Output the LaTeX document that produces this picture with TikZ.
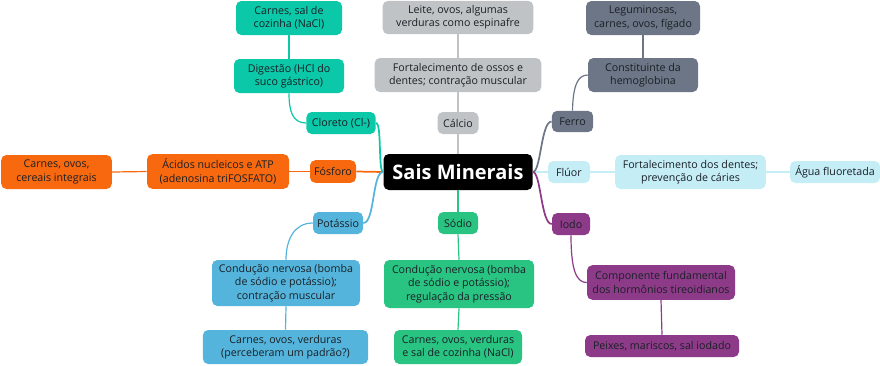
\documentclass[tikz,border=0pt]{standalone}
\usepackage{fontspec}
\setmainfont{Open Sans}
\definecolor{clTeal}{HTML}{0AC8A8}
\definecolor{clGrey}{HTML}{C0C3C6}
\definecolor{clSlate}{HTML}{6C7686}
\definecolor{clSky}{HTML}{C5EDF6}
\definecolor{clOrange}{HTML}{F7680F}
\definecolor{clBlue}{HTML}{55B4DB}
\definecolor{clGreen}{HTML}{29C382}
\definecolor{clPurple}{HTML}{8D3B88}
\definecolor{clInk}{HTML}{1A2026}
\tikzset{
 box/.style={fill=#1,rounded corners=4pt,align=center,inner sep=1pt,
  text=clInk,font=\fontsize{8}{10}\selectfont},
 ln/.style={draw=#1,line width=1.3pt},
 lnthin/.style={draw=#1,line width=.9pt}
}
\begin{document}
\begin{tikzpicture}[x=.75pt,y=-.75pt]
 \useasboundingbox (0,0) rectangle (880,365);
 % centre
 \node[fill=black,rounded corners=4pt,text=white,font=\fontsize{15}{18}\selectfont\bfseries,
  minimum width=111.75pt,minimum height=27pt,inner sep=1pt] (sm) at (458,172) {Sais Minerais};
 % calcio
 \node[box=clGrey,minimum width=30.75pt,minimum height=16.5pt] (calcio) at (458,123) {Cálcio};
 \node[box=clGrey,minimum width=125pt,minimum height=25.5pt] (ossos) at (458,75) {Fortalecimento de ossos e\\dentes; contração muscular};
 \node[box=clGrey,minimum width=113pt,minimum height=25pt] (leite) at (458,17.5) {Leite, ovos, algumas\\verduras como espinafre};
 % cloreto
 \node[box=clTeal,minimum width=52pt,minimum height=16.5pt] (cloreto) at (341,123) {Cloreto (Cl-)};
 \node[box=clTeal,minimum width=82.5pt,minimum height=25.5pt] (digest) at (289,76) {Digestão (HCl do\\suco gástrico)};
 \node[box=clTeal,minimum width=79.5pt,minimum height=25.5pt] (salcoz) at (289,18) {Carnes, sal de\\cozinha (NaCl)};
 % fosforo
 \node[box=clOrange,minimum width=34.5pt,minimum height=17pt] (fosforo) at (333,171.5) {Fósforo};
 \node[box=clOrange,minimum width=106.5pt,minimum height=26pt] (atp) at (218,171.5) {Ácidos nucleicos e ATP\\(adenosina triFOSFATO)};
 \node[box=clOrange,minimum width=83pt,minimum height=25.5pt] (cereais) at (56.5,172) {Carnes, ovos,\\cereais integrais};
 % potassio
 \node[box=clBlue,minimum width=37.5pt,minimum height=16.5pt] (potassio) at (338,223) {Potássio};
 \node[box=clBlue,minimum width=111pt,minimum height=34.5pt] (condk) at (286,283) {Condução nervosa (bomba\\de sódio e potássio);\\contração muscular};
 \node[box=clBlue,minimum width=124pt,minimum height=25.5pt] (padrao) at (285.5,347) {Carnes, ovos, verduras\\(perceberam um padrão?)};
 % sodio
 \node[box=clGreen,minimum width=30pt,minimum height=16.5pt] (sodio) at (458,223) {Sódio};
 \node[box=clGreen,minimum width=112.5pt,minimum height=36pt] (condna) at (459,284) {Condução nervosa (bomba\\de sódio e potássio);\\regulação da pressão};
 \node[box=clGreen,minimum width=96pt,minimum height=25.5pt] (verdsal) at (458,347) {Carnes, ovos, verduras\\e sal de cozinha (NaCl)};
 % ferro
 \node[box=clSlate,minimum width=31pt,minimum height=16pt] (ferro) at (572.5,121.5) {Ferro};
 \node[box=clSlate,minimum width=82.5pt,minimum height=25.5pt] (hemo) at (643,75) {Constituinte da\\hemoglobina};
 \node[box=clSlate,minimum width=85.5pt,minimum height=25.5pt] (legum) at (643,18) {Leguminosas,\\carnes, ovos, fígado};
 % fluor
 \node[box=clSky,minimum width=31.5pt,minimum height=16.5pt] (fluor) at (569,172) {Flúor};
 \node[box=clSky,minimum width=113pt,minimum height=25.5pt] (dentes) at (690.5,172) {Fortalecimento dos dentes;\\prevenção de cáries};
 \node[box=clSky,minimum width=67.5pt,minimum height=16.5pt] (agua) at (835,172) {Água fluoretada};
 % iodo
 \node[box=clPurple,minimum width=28.5pt,minimum height=16.5pt] (iodo) at (571,224) {Iodo};
 \node[box=clPurple,minimum width=111pt,minimum height=26pt] (horm) at (661,282.5) {Componente fundamental\\dos hormônios tireoidianos};
 \node[box=clPurple,minimum width=115.5pt,minimum height=16.5pt] (peixes) at (662,346) {Peixes, mariscos, sal iodado};

 % branches from the centre
 \draw[ln=clGrey] (sm.north) -- (calcio.south);
 \draw[ln=clGreen] (sm.south) -- (sodio.north);
 \draw[ln=clOrange] (sm.west) -- (fosforo.east);
 \draw[ln=clSky] (sm.east) -- (fluor.west);
 \draw[ln=clTeal] (sm.west) .. controls (378,172) and (382,123) .. (cloreto.east);
 \draw[ln=clBlue] (sm.west) .. controls (372,172) and (375,223) .. (potassio.east);
 \draw[ln=clSlate] (sm.east) .. controls (541,172) and (541,121.5) .. (ferro.west);
 \draw[ln=clPurple] (sm.east) .. controls (541,172) and (541,224) .. (iodo.west);
 % second level
 \draw[lnthin=clGrey] (calcio.north) -- (ossos.south);
 \draw[lnthin=clGrey] (ossos.north) -- (leite.south);
 \draw[lnthin=clTeal] (cloreto.west) .. controls (292,123) and (289,110) .. (digest.south);
 \draw[lnthin=clTeal] (digest.north) -- (salcoz.south);
 \draw[lnthin=clOrange] (fosforo.west) -- (atp.east);
 \draw[lnthin=clOrange] (atp.west) -- (cereais.east);
 \draw[lnthin=clBlue] (potassio.west) .. controls (294,223) and (286,240) .. (condk.north);
 \draw[lnthin=clBlue] (condk.south) -- (padrao.north);
 \draw[lnthin=clGreen] (sodio.south) -- (condna.north);
 \draw[lnthin=clGreen] (condna.south) -- (verdsal.north);
 \draw[lnthin=clSlate] (ferro.north) .. controls (573,85) and (578,75) .. (hemo.west);
 \draw[lnthin=clSlate] (hemo.north) -- (legum.south);
 \draw[lnthin=clSky] (fluor.east) -- (dentes.west);
 \draw[lnthin=clSky] (dentes.east) -- (agua.west);
 \draw[lnthin=clPurple] (iodo.south) .. controls (571,272) and (577,282.5) .. (horm.west);
 \draw[lnthin=clPurple] (horm.south) -- (peixes.north);
\end{tikzpicture}
\end{document}
